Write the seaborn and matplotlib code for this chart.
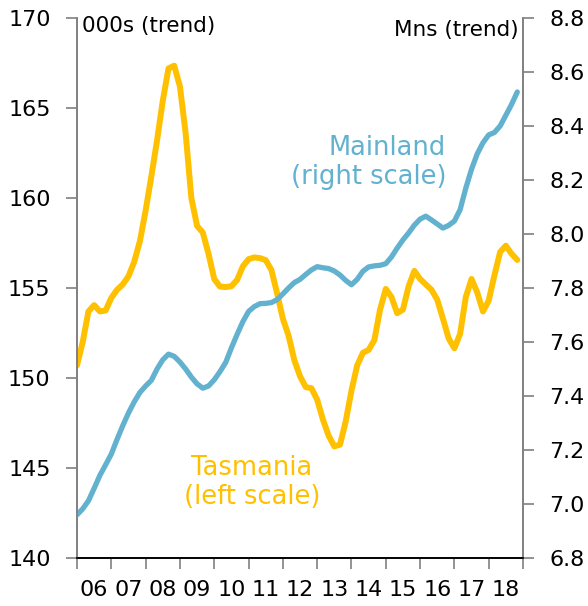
import numpy as np
import pandas as pd
import matplotlib
matplotlib.use("Agg")
import matplotlib.pyplot as plt
import seaborn as sns

# Bi-monthly observations, Jan 2006 to Nov 2018 (decimal years)
dates = [2006 + i / 6 for i in range(78)]

# Tasmania employment, thousands (trend)
tasmania = [150.7, 152.0, 153.7, 154.05, 153.7, 153.75, 154.45, 154.9,
            155.2, 155.65, 156.45, 157.6, 159.3, 161.2, 163.2, 165.4,
            167.2, 167.35, 166.2, 163.6, 160.0, 158.45, 158.08, 156.9,
            155.5, 155.08, 155.05, 155.1, 155.45, 156.2, 156.6, 156.7,
            156.66, 156.55, 156.0, 154.7, 153.3, 152.35, 151.0, 150.1,
            149.5, 149.43, 148.8, 147.7, 146.8, 146.2, 146.3, 147.6,
            149.3, 150.7, 151.4, 151.56, 152.1, 153.8, 154.95, 154.5,
            153.6, 153.8, 155.1, 155.95, 155.5, 155.2, 154.9, 154.35,
            153.3, 152.2, 151.65, 152.45, 154.5, 155.5, 154.75, 153.7,
            154.3, 155.7, 157.0, 157.35, 156.9, 156.56]

# Mainland employment, millions (trend)
mainland = [6.96, 6.982, 7.012, 7.058, 7.106, 7.145, 7.185, 7.239,
            7.29, 7.337, 7.378, 7.413, 7.437, 7.458, 7.50, 7.534,
            7.555, 7.547, 7.526, 7.50, 7.47, 7.445, 7.429, 7.437,
            7.46, 7.49, 7.524, 7.578, 7.628, 7.675, 7.713, 7.731,
            7.742, 7.743, 7.746, 7.757, 7.778, 7.80, 7.82, 7.832,
            7.85, 7.867, 7.879, 7.875, 7.872, 7.863, 7.848, 7.828,
            7.812, 7.832, 7.862, 7.878, 7.882, 7.884, 7.89, 7.915,
            7.948, 7.978, 8.004, 8.033, 8.055, 8.066, 8.052, 8.037,
            8.022, 8.032, 8.048, 8.09, 8.17, 8.24, 8.297, 8.338,
            8.367, 8.376, 8.40, 8.44, 8.48, 8.526]

year_labels = ["06", "07", "08", "09", "10", "11", "12",
               "13", "14", "15", "16", "17", "18"]
left_ticks = [140, 145, 150, 155, 160, 165, 170]
right_ticks = [6.8, 7.0, 7.2, 7.4, 7.6, 7.8, 8.0, 8.2, 8.4, 8.6, 8.8]

df = pd.DataFrame({"date": dates, "tas": tasmania, "main": mainland})

sns.set_theme(style="white")
plt.rcParams["font.family"] = ["DejaVu Sans"]

TAS = "#FFC000"
MAIN = "#62B2CF"
AXIS_GREY = "#808080"

fig = plt.figure(figsize=(5.88, 6.06), dpi=100)
ax = fig.add_axes([77 / 588, 48 / 606, 446 / 588, 540 / 606])
ax2 = ax.twinx()

sns.lineplot(data=df, x="date", y="tas", ax=ax, color=TAS, linewidth=4.3,
             solid_capstyle="round", solid_joinstyle="round")
sns.lineplot(data=df, x="date", y="main", ax=ax2, color=MAIN, linewidth=3.8,
             solid_capstyle="round", solid_joinstyle="round")

ax.set_xlim(2006, 2019)
ax.set_ylim(140, 170)
ax2.set_ylim(6.8, 8.8)

# Year boundaries carry tick marks, labels sit mid-year
ax.set_xticks(range(2006, 2020))
ax.set_xticklabels([])
ax.set_xticks([2006.5 + i for i in range(len(year_labels))], minor=True)
ax.set_xticklabels(year_labels, minor=True)
ax.tick_params(axis="x", which="major", direction="out", length=8, width=1.2,
               color=AXIS_GREY, bottom=True)
ax.tick_params(axis="x", which="minor", length=0, pad=16, labelsize=16,
               labelcolor="black")

ax.set_yticks(left_ticks)
ax.set_yticklabels([str(v) for v in left_ticks])
ax.tick_params(axis="y", direction="out", length=8, width=1.2, color=AXIS_GREY,
               pad=11, labelsize=16, labelcolor="black", left=True)

ax2.set_yticks(right_ticks)
ax2.set_yticklabels([f"{v:.1f}" for v in right_ticks])
ax2.tick_params(axis="y", direction="out", length=8, width=1.2, color=AXIS_GREY,
                pad=11, labelsize=16, labelcolor="black", right=True)

for a in (ax, ax2):
    a.set_xlabel("")
    a.set_ylabel("")
    a.spines["top"].set_visible(False)
    a.spines["left"].set_color(AXIS_GREY)
    a.spines["right"].set_color(AXIS_GREY)
    a.spines["left"].set_linewidth(1.2)
    a.spines["right"].set_linewidth(1.2)
    a.spines["bottom"].set_color("black")
    a.spines["bottom"].set_linewidth(1.2)
    a.grid(False)

ax.text(0.012, 0.985, "000s (trend)", transform=ax.transAxes, ha="left",
        va="center", fontsize=15.5, color="black")
ax2.text(0.99, 0.978, "Mns (trend)", transform=ax2.transAxes, ha="right",
         va="center", fontsize=15.5, color="black")

ax2.text(2016.76, 8.265, "Mainland\n(right scale)", ha="right", va="center",
         fontsize=18.5, color=MAIN, linespacing=1.15)
ax.text(2011.1, 144.2, "Tasmania\n(left scale)", ha="center", va="center",
        fontsize=18.5, color=TAS, linespacing=1.15)

fig.savefig("out.png", dpi=100)
